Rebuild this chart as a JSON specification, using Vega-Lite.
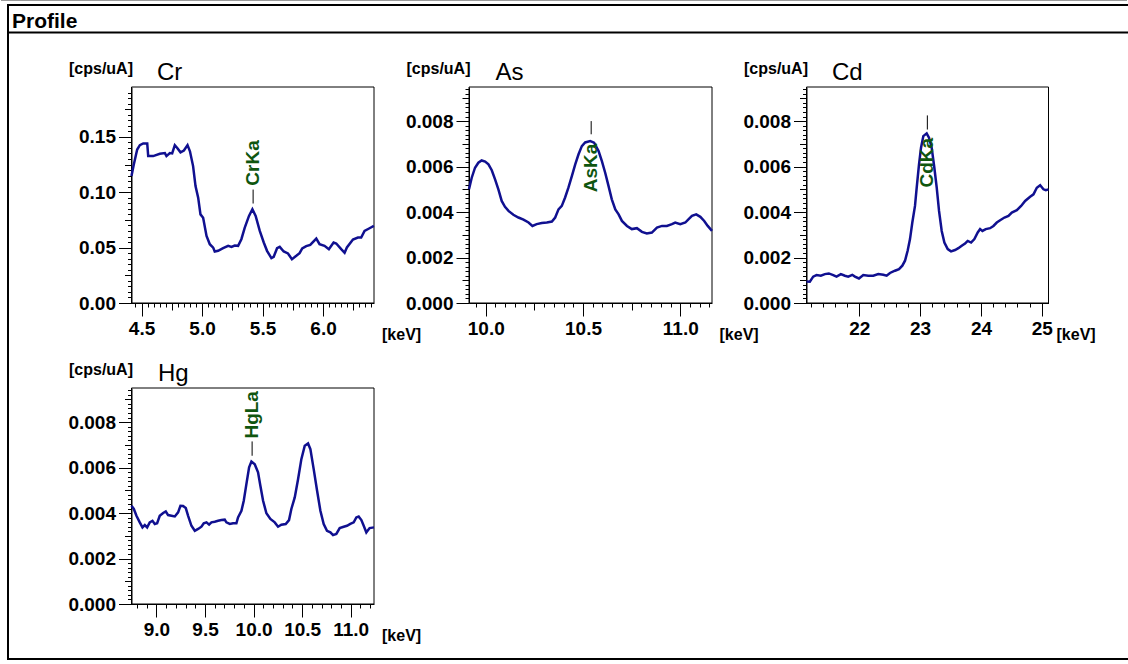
{
  "$schema": "https://vega.github.io/schema/vega-lite/v6.json",
  "width": 1119,
  "height": 654,
  "padding": {"left": 0, "top": 0, "right": 0, "bottom": 0},
  "background": "white",
  "config": {
    "view": {"stroke": null},
    "axis": {
      "domainColor": "black", "tickColor": "black", "grid": false,
      "labelFont": "Liberation Sans Narrow, Liberation Sans", "labelFontSize": 19, "labelFontWeight": "bold",
      "labelColor": "black", "labelPadding": 3, "labelFlush": false, "labelOverlap": false,
      "titleFont": "Liberation Sans", "titleFontSize": 16, "titleFontWeight": "bold", "titleColor": "black",
      "tickSize": 13
    }
  },
  "datasets": {
    "cr": [
      {"keV": 4.417, "cps": 0.1146}, {"keV": 4.436, "cps": 0.125}, {"keV": 4.464, "cps": 0.1386}, {"keV": 4.486, "cps": 0.1425},
      {"keV": 4.514, "cps": 0.144}, {"keV": 4.547, "cps": 0.144}, {"keV": 4.555, "cps": 0.1326}, {"keV": 4.596, "cps": 0.1326},
      {"keV": 4.651, "cps": 0.1347}, {"keV": 4.693, "cps": 0.1353}, {"keV": 4.706, "cps": 0.1326}, {"keV": 4.734, "cps": 0.1353},
      {"keV": 4.753, "cps": 0.135}, {"keV": 4.775, "cps": 0.1425}, {"keV": 4.795, "cps": 0.14}, {"keV": 4.822, "cps": 0.136},
      {"keV": 4.85, "cps": 0.1377}, {"keV": 4.88, "cps": 0.1425}, {"keV": 4.9, "cps": 0.137}, {"keV": 4.926, "cps": 0.1236},
      {"keV": 4.946, "cps": 0.1056}, {"keV": 4.968, "cps": 0.0951}, {"keV": 4.987, "cps": 0.08}, {"keV": 5.009, "cps": 0.077},
      {"keV": 5.037, "cps": 0.0606}, {"keV": 5.064, "cps": 0.0531}, {"keV": 5.092, "cps": 0.05}, {"keV": 5.105, "cps": 0.0465},
      {"keV": 5.133, "cps": 0.0471}, {"keV": 5.174, "cps": 0.0495}, {"keV": 5.216, "cps": 0.0516}, {"keV": 5.243, "cps": 0.0507},
      {"keV": 5.27, "cps": 0.0519}, {"keV": 5.298, "cps": 0.0516}, {"keV": 5.325, "cps": 0.0576}, {"keV": 5.353, "cps": 0.0681},
      {"keV": 5.388, "cps": 0.0786}, {"keV": 5.416, "cps": 0.0846}, {"keV": 5.443, "cps": 0.0786}, {"keV": 5.477, "cps": 0.0651},
      {"keV": 5.51, "cps": 0.0546}, {"keV": 5.537, "cps": 0.0471}, {"keV": 5.573, "cps": 0.0405}, {"keV": 5.592, "cps": 0.0417},
      {"keV": 5.62, "cps": 0.0495}, {"keV": 5.642, "cps": 0.0507}, {"keV": 5.675, "cps": 0.0465}, {"keV": 5.71, "cps": 0.0447},
      {"keV": 5.743, "cps": 0.0396}, {"keV": 5.779, "cps": 0.0426}, {"keV": 5.806, "cps": 0.045}, {"keV": 5.828, "cps": 0.0492},
      {"keV": 5.861, "cps": 0.0513}, {"keV": 5.894, "cps": 0.0525}, {"keV": 5.944, "cps": 0.0582}, {"keV": 5.971, "cps": 0.0531},
      {"keV": 6.012, "cps": 0.0516}, {"keV": 6.048, "cps": 0.0486}, {"keV": 6.087, "cps": 0.0546}, {"keV": 6.109, "cps": 0.0537},
      {"keV": 6.15, "cps": 0.0486}, {"keV": 6.178, "cps": 0.0453}, {"keV": 6.197, "cps": 0.0501}, {"keV": 6.247, "cps": 0.0573},
      {"keV": 6.288, "cps": 0.0591}, {"keV": 6.315, "cps": 0.0591}, {"keV": 6.343, "cps": 0.0651}, {"keV": 6.384, "cps": 0.0675},
      {"keV": 6.42, "cps": 0.0696}
    ],
    "as": [
      {"keV": 9.914, "cps": 0.005}, {"keV": 9.928, "cps": 0.00551}, {"keV": 9.945, "cps": 0.00595}, {"keV": 9.962, "cps": 0.00617},
      {"keV": 9.979, "cps": 0.00627}, {"keV": 9.997, "cps": 0.00622}, {"keV": 10.014, "cps": 0.0061}, {"keV": 10.031, "cps": 0.00584},
      {"keV": 10.048, "cps": 0.00544}, {"keV": 10.065, "cps": 0.005}, {"keV": 10.082, "cps": 0.00449}, {"keV": 10.099, "cps": 0.00423},
      {"keV": 10.117, "cps": 0.00405}, {"keV": 10.142, "cps": 0.00388}, {"keV": 10.168, "cps": 0.00376}, {"keV": 10.194, "cps": 0.00367},
      {"keV": 10.22, "cps": 0.00354}, {"keV": 10.24, "cps": 0.00339}, {"keV": 10.262, "cps": 0.00347}, {"keV": 10.288, "cps": 0.00352},
      {"keV": 10.314, "cps": 0.00354}, {"keV": 10.34, "cps": 0.00358}, {"keV": 10.357, "cps": 0.00376}, {"keV": 10.374, "cps": 0.00412},
      {"keV": 10.391, "cps": 0.00427}, {"keV": 10.408, "cps": 0.00464}, {"keV": 10.425, "cps": 0.00507}, {"keV": 10.443, "cps": 0.00559},
      {"keV": 10.46, "cps": 0.0061}, {"keV": 10.477, "cps": 0.00654}, {"keV": 10.494, "cps": 0.0069}, {"keV": 10.511, "cps": 0.00706},
      {"keV": 10.537, "cps": 0.00712}, {"keV": 10.557, "cps": 0.00705}, {"keV": 10.58, "cps": 0.00668}, {"keV": 10.597, "cps": 0.00624},
      {"keV": 10.614, "cps": 0.00573}, {"keV": 10.631, "cps": 0.00515}, {"keV": 10.648, "cps": 0.00456}, {"keV": 10.666, "cps": 0.00412},
      {"keV": 10.683, "cps": 0.0039}, {"keV": 10.7, "cps": 0.00361}, {"keV": 10.726, "cps": 0.00339}, {"keV": 10.751, "cps": 0.00325},
      {"keV": 10.777, "cps": 0.00329}, {"keV": 10.803, "cps": 0.00313}, {"keV": 10.828, "cps": 0.00306}, {"keV": 10.854, "cps": 0.0031},
      {"keV": 10.88, "cps": 0.00332}, {"keV": 10.906, "cps": 0.00339}, {"keV": 10.931, "cps": 0.00339}, {"keV": 10.957, "cps": 0.00347},
      {"keV": 10.974, "cps": 0.00354}, {"keV": 11.0, "cps": 0.00347}, {"keV": 11.026, "cps": 0.00354}, {"keV": 11.043, "cps": 0.00369},
      {"keV": 11.06, "cps": 0.00383}, {"keV": 11.082, "cps": 0.0039}, {"keV": 11.103, "cps": 0.00379}, {"keV": 11.123, "cps": 0.00361},
      {"keV": 11.141, "cps": 0.00339}, {"keV": 11.163, "cps": 0.00317}
    ],
    "cd": [
      {"keV": 21.133, "cps": 0.00095}, {"keV": 21.188, "cps": 0.00094}, {"keV": 21.243, "cps": 0.00116}, {"keV": 21.298, "cps": 0.00123},
      {"keV": 21.369, "cps": 0.0012}, {"keV": 21.435, "cps": 0.00127}, {"keV": 21.5, "cps": 0.0013}, {"keV": 21.572, "cps": 0.00123},
      {"keV": 21.627, "cps": 0.00116}, {"keV": 21.698, "cps": 0.00127}, {"keV": 21.764, "cps": 0.0012}, {"keV": 21.819, "cps": 0.00116},
      {"keV": 21.885, "cps": 0.00124}, {"keV": 21.929, "cps": 0.00116}, {"keV": 21.995, "cps": 0.00108}, {"keV": 22.066, "cps": 0.00123},
      {"keV": 22.148, "cps": 0.0012}, {"keV": 22.23, "cps": 0.0012}, {"keV": 22.313, "cps": 0.00127}, {"keV": 22.395, "cps": 0.00124},
      {"keV": 22.45, "cps": 0.0012}, {"keV": 22.505, "cps": 0.00132}, {"keV": 22.587, "cps": 0.00142}, {"keV": 22.653, "cps": 0.00149},
      {"keV": 22.708, "cps": 0.00164}, {"keV": 22.752, "cps": 0.00186}, {"keV": 22.795, "cps": 0.0023}, {"keV": 22.834, "cps": 0.00281},
      {"keV": 22.872, "cps": 0.00354}, {"keV": 22.916, "cps": 0.00427}, {"keV": 22.944, "cps": 0.00507}, {"keV": 22.982, "cps": 0.0061},
      {"keV": 23.015, "cps": 0.00683}, {"keV": 23.053, "cps": 0.00734}, {"keV": 23.108, "cps": 0.00746}, {"keV": 23.146, "cps": 0.00727},
      {"keV": 23.19, "cps": 0.00683}, {"keV": 23.234, "cps": 0.00595}, {"keV": 23.273, "cps": 0.00507}, {"keV": 23.311, "cps": 0.00405},
      {"keV": 23.355, "cps": 0.00317}, {"keV": 23.399, "cps": 0.00266}, {"keV": 23.454, "cps": 0.00237}, {"keV": 23.508, "cps": 0.00227},
      {"keV": 23.574, "cps": 0.00233}, {"keV": 23.629, "cps": 0.00241}, {"keV": 23.684, "cps": 0.00252}, {"keV": 23.739, "cps": 0.00262},
      {"keV": 23.783, "cps": 0.00273}, {"keV": 23.838, "cps": 0.00266}, {"keV": 23.892, "cps": 0.00281}, {"keV": 23.947, "cps": 0.0031},
      {"keV": 23.986, "cps": 0.00325}, {"keV": 24.024, "cps": 0.00317}, {"keV": 24.079, "cps": 0.00325}, {"keV": 24.15, "cps": 0.00329},
      {"keV": 24.205, "cps": 0.00339}, {"keV": 24.26, "cps": 0.00354}, {"keV": 24.315, "cps": 0.00364}, {"keV": 24.386, "cps": 0.00376},
      {"keV": 24.452, "cps": 0.00383}, {"keV": 24.507, "cps": 0.00398}, {"keV": 24.589, "cps": 0.00408}, {"keV": 24.66, "cps": 0.00427},
      {"keV": 24.726, "cps": 0.00449}, {"keV": 24.808, "cps": 0.00467}, {"keV": 24.863, "cps": 0.00478}, {"keV": 24.918, "cps": 0.00507},
      {"keV": 24.973, "cps": 0.00518}, {"keV": 25.027, "cps": 0.005}, {"keV": 25.066, "cps": 0.00496}, {"keV": 25.11, "cps": 0.005}
    ],
    "hg": [
      {"keV": 8.743, "cps": 0.00432}, {"keV": 8.767, "cps": 0.00418}, {"keV": 8.794, "cps": 0.00388}, {"keV": 8.828, "cps": 0.00359},
      {"keV": 8.856, "cps": 0.00337}, {"keV": 8.88, "cps": 0.00347}, {"keV": 8.904, "cps": 0.00337}, {"keV": 8.931, "cps": 0.00359},
      {"keV": 8.959, "cps": 0.00366}, {"keV": 8.983, "cps": 0.00352}, {"keV": 9.007, "cps": 0.00355}, {"keV": 9.034, "cps": 0.00388},
      {"keV": 9.069, "cps": 0.004}, {"keV": 9.096, "cps": 0.00407}, {"keV": 9.12, "cps": 0.00391}, {"keV": 9.154, "cps": 0.00388},
      {"keV": 9.189, "cps": 0.00385}, {"keV": 9.223, "cps": 0.00403}, {"keV": 9.247, "cps": 0.00432}, {"keV": 9.274, "cps": 0.00431},
      {"keV": 9.302, "cps": 0.00422}, {"keV": 9.326, "cps": 0.00388}, {"keV": 9.36, "cps": 0.00344}, {"keV": 9.395, "cps": 0.00322},
      {"keV": 9.429, "cps": 0.0033}, {"keV": 9.463, "cps": 0.0034}, {"keV": 9.487, "cps": 0.00355}, {"keV": 9.515, "cps": 0.00359},
      {"keV": 9.542, "cps": 0.00349}, {"keV": 9.566, "cps": 0.00359}, {"keV": 9.6, "cps": 0.00362}, {"keV": 9.635, "cps": 0.00366},
      {"keV": 9.669, "cps": 0.00369}, {"keV": 9.703, "cps": 0.00371}, {"keV": 9.72, "cps": 0.00359}, {"keV": 9.755, "cps": 0.00352},
      {"keV": 9.789, "cps": 0.00355}, {"keV": 9.823, "cps": 0.00355}, {"keV": 9.84, "cps": 0.00381}, {"keV": 9.875, "cps": 0.0041},
      {"keV": 9.899, "cps": 0.00454}, {"keV": 9.926, "cps": 0.00527}, {"keV": 9.954, "cps": 0.00601}, {"keV": 9.978, "cps": 0.00627},
      {"keV": 10.012, "cps": 0.00615}, {"keV": 10.046, "cps": 0.00579}, {"keV": 10.07, "cps": 0.0052}, {"keV": 10.098, "cps": 0.00454},
      {"keV": 10.132, "cps": 0.00399}, {"keV": 10.173, "cps": 0.00374}, {"keV": 10.218, "cps": 0.00359}, {"keV": 10.252, "cps": 0.0034},
      {"keV": 10.286, "cps": 0.00349}, {"keV": 10.331, "cps": 0.00352}, {"keV": 10.365, "cps": 0.00369}, {"keV": 10.389, "cps": 0.00418},
      {"keV": 10.424, "cps": 0.00469}, {"keV": 10.458, "cps": 0.00549}, {"keV": 10.492, "cps": 0.00637}, {"keV": 10.527, "cps": 0.00696},
      {"keV": 10.561, "cps": 0.00706}, {"keV": 10.585, "cps": 0.00681}, {"keV": 10.619, "cps": 0.00593}, {"keV": 10.654, "cps": 0.00498},
      {"keV": 10.688, "cps": 0.0041}, {"keV": 10.722, "cps": 0.00352}, {"keV": 10.756, "cps": 0.00322}, {"keV": 10.791, "cps": 0.00315},
      {"keV": 10.818, "cps": 0.00303}, {"keV": 10.852, "cps": 0.00308}, {"keV": 10.887, "cps": 0.00334}, {"keV": 10.928, "cps": 0.0034},
      {"keV": 10.962, "cps": 0.00344}, {"keV": 10.996, "cps": 0.00352}, {"keV": 11.031, "cps": 0.00359}, {"keV": 11.058, "cps": 0.00381},
      {"keV": 11.082, "cps": 0.00385}, {"keV": 11.11, "cps": 0.00369}, {"keV": 11.134, "cps": 0.00344}, {"keV": 11.161, "cps": 0.00315},
      {"keV": 11.195, "cps": 0.00334}, {"keV": 11.24, "cps": 0.00337}
    ],
    "peaks": [
      {"el": "Cr", "line": "CrKa", "keV": 5.422, "y1": 0.0898, "y2": 0.1024, "ly": 0.1264},
      {"el": "As", "line": "AsKa", "keV": 10.542, "y1": 0.00742, "y2": 0.008, "ly": 0.00594},
      {"el": "Cd", "line": "CdKa", "keV": 23.119, "y1": 0.00763, "y2": 0.00825, "ly": 0.00617},
      {"el": "Hg", "line": "HgLa", "keV": 9.985, "y1": 0.00652, "y2": 0.00715, "ly": 0.00832}
    ]
  },
  "resolve": {"scale": {"x": "independent", "y": "independent"}, "axis": {"x": "independent", "y": "independent"}},
  "layer": [
    {
      "data": {"values": [{"t": "Profile"}]},
      "layer": [
        {"mark": {"type": "text", "align": "left", "baseline": "alphabetic", "font": "Liberation Sans", "fontSize": 21, "fontWeight": "bold", "dx": 4, "dy": -5, "color": "black"},
         "encoding": {
           "text": {"field": "t"},
           "x": {"datum": 0, "type": "quantitative", "scale": {"domain": [0, 1], "range": [0, 1119]}, "axis": null},
           "y": {"datum": 0.95795, "type": "quantitative", "scale": {"domain": [0, 1], "range": [654, 0]}, "axis": null}
         }},
        {"mark": {"type": "rule", "color": "#9a9a9a", "strokeWidth": 1},
         "encoding": {
           "x": {"datum": -0.006256, "type": "quantitative", "scale": {"domain": [0, 1], "range": [0, 1119]}, "axis": null},
           "x2": {"datum": 1},
           "y": {"datum": 1.00688, "type": "quantitative", "scale": {"domain": [0, 1], "range": [654, 0]}, "axis": null}
         }},
        {"mark": {"type": "rule", "color": "black", "strokeWidth": 2, "strokeCap": "square"},
         "encoding": {
           "x": {"datum": 0, "type": "quantitative", "scale": {"domain": [0, 1], "range": [0, 1119]}, "axis": null},
           "x2": {"datum": 1},
           "y": {"datum": 1, "type": "quantitative", "scale": {"domain": [0, 1], "range": [654, 0]}, "axis": null}
         }},
        {"mark": {"type": "rule", "color": "black", "strokeWidth": 2, "strokeCap": "square"},
         "encoding": {
           "x": {"datum": 0, "type": "quantitative", "scale": {"domain": [0, 1], "range": [0, 1119]}, "axis": null},
           "x2": {"datum": 1},
           "y": {"datum": 0.95795, "type": "quantitative", "scale": {"domain": [0, 1], "range": [654, 0]}, "axis": null}
         }},
        {"mark": {"type": "rule", "color": "black", "strokeWidth": 2, "strokeCap": "square"},
         "encoding": {
           "x": {"datum": 0, "type": "quantitative", "scale": {"domain": [0, 1], "range": [0, 1119]}, "axis": null},
           "x2": {"datum": 1},
           "y": {"datum": 0, "type": "quantitative", "scale": {"domain": [0, 1], "range": [654, 0]}, "axis": null}
         }},
        {"mark": {"type": "rule", "color": "black", "strokeWidth": 2, "strokeCap": "square"},
         "encoding": {
           "x": {"datum": 0, "type": "quantitative", "scale": {"domain": [0, 1], "range": [0, 1119]}, "axis": null},
           "y": {"datum": 0, "type": "quantitative", "scale": {"domain": [0, 1], "range": [654, 0]}, "axis": null},
           "y2": {"datum": 1}
         }}
      ]
    },
    {
      "resolve": {"axis": {"x": "independent", "y": "independent"}},
      "layer": [
        {
          "data": {"values": [{}]},
          "mark": {"type": "rect", "fill": "transparent", "stroke": "black", "strokeWidth": 1},
          "encoding": {
            "x": {"datum": 4.417, "type": "quantitative", "scale": {"domain": [4.417, 6.421], "range": [123.5, 366], "nice": false, "zero": false}, "axis": null},
            "x2": {"datum": 6.421},
            "y": {"datum": 0, "type": "quantitative", "scale": {"domain": [0, 0.195], "range": [298, 82], "nice": false, "zero": false}, "axis": null},
            "y2": {"datum": 0.195}
          }
        },
        {
          "data": {"name": "cr"},
          "mark": {"type": "line", "color": "#101090", "strokeWidth": 2.5},
          "encoding": {
            "x": {"field": "keV", "type": "quantitative", "scale": {"domain": [4.417, 6.421], "range": [123.5, 366], "nice": false, "zero": false},
              "axis": {"orient": "bottom", "offset": -356, "values": [4.5, 5, 5.5, 6], "format": ".1f", "title": "[keV]", "titleAlign": "left", "titleAnchor": "start", "titleBaseline": "alphabetic", "titleX": 373.5, "titleY": 36}},
            "y": {"field": "cps", "type": "quantitative", "scale": {"domain": [0, 0.195], "range": [298, 82], "nice": false, "zero": false},
              "axis": {"orient": "left", "offset": -123.5, "values": [0, 0.05, 0.1, 0.15], "format": ".2f", "title": "[cps/uA]", "titleAngle": 0, "titleAlign": "right", "titleBaseline": "alphabetic", "titleX": 1, "titleY": 68}}
          }
        },
        {
          "data": {"name": "peaks"},
          "transform": [{"filter": "datum.el === 'Cr'"}],
          "mark": {"type": "rule", "color": "black", "strokeWidth": 1},
          "encoding": {
            "x": {"field": "keV", "type": "quantitative", "scale": {"domain": [4.417, 6.421], "range": [123.5, 366], "nice": false, "zero": false},
              "axis": {"orient": "bottom", "offset": -356, "values": [4.45,4.5,4.55,4.6,4.65,4.7,4.75,4.8,4.85,4.9,4.95,5,5.05,5.1,5.15,5.2,5.25,5.3,5.35,5.4,5.45,5.5,5.55,5.6,5.65,5.7,5.75,5.8,5.85,5.9,5.95,6,6.05,6.1,6.15,6.2,6.25,6.3,6.35,6.4], "tickSize": 4, "labels": false, "domain": false, "title": null}},
            "y": {"field": "y1", "type": "quantitative", "scale": {"domain": [0, 0.195], "range": [298, 82], "nice": false, "zero": false},
              "axis": {"orient": "left", "offset": -123.5, "values": [0.005,0.01,0.015,0.02,0.025,0.03,0.035,0.04,0.045,0.05,0.055,0.06,0.065,0.07,0.075,0.08,0.085,0.09,0.095,0.1,0.105,0.11,0.115,0.12,0.125,0.13,0.135,0.14,0.145,0.15,0.155,0.16,0.165,0.17,0.175,0.18,0.185,0.19], "tickSize": 4, "labels": false, "domain": false, "title": null}},
            "y2": {"field": "y2"}
          }
        },
        {
          "data": {"name": "peaks"},
          "transform": [{"filter": "datum.el === 'Cr'"}],
          "mark": {"type": "text", "angle": 270, "align": "center", "baseline": "middle", "font": "Liberation Sans Narrow, Liberation Sans", "fontSize": 19, "fontWeight": "bold", "color": "#0f560f"},
          "encoding": {
            "text": {"field": "line"},
            "x": {"field": "keV", "type": "quantitative", "scale": {"domain": [4.417, 6.421], "range": [123.5, 366], "nice": false, "zero": false},
              "axis": {"orient": "bottom", "offset": -356, "values": [4.75, 5.25, 5.75, 6.25], "tickSize": 7, "labels": false, "domain": false, "title": null}},
            "y": {"field": "ly", "type": "quantitative", "scale": {"domain": [0, 0.195], "range": [298, 82], "nice": false, "zero": false},
              "axis": {"orient": "left", "offset": -123.5, "values": [0.025, 0.075, 0.125, 0.175], "tickSize": 7, "labels": false, "domain": false,
                "title": "Cr", "titleFont": "Liberation Sans", "titleFontSize": 24, "titleFontWeight": "normal", "titleAngle": 0, "titleAlign": "left", "titleBaseline": "alphabetic", "titleX": 25, "titleY": 74}}
          }
        }
      ]
    },
    {
      "resolve": {"axis": {"x": "independent", "y": "independent"}},
      "layer": [
        {
          "data": {"values": [{}]},
          "mark": {"type": "rect", "fill": "transparent", "stroke": "black", "strokeWidth": 1},
          "encoding": {
            "x": {"datum": 9.914, "type": "quantitative", "scale": {"domain": [9.914, 11.163], "range": [461, 704], "nice": false, "zero": false}, "axis": null},
            "x2": {"datum": 11.163},
            "y": {"datum": 0, "type": "quantitative", "scale": {"domain": [0, 0.0095], "range": [298, 82], "nice": false, "zero": false}, "axis": null},
            "y2": {"datum": 0.0095}
          }
        },
        {
          "data": {"name": "as"},
          "mark": {"type": "line", "color": "#101090", "strokeWidth": 2.5},
          "encoding": {
            "x": {"field": "keV", "type": "quantitative", "scale": {"domain": [9.914, 11.163], "range": [461, 704], "nice": false, "zero": false},
              "axis": {"orient": "bottom", "offset": -356, "values": [10, 10.5, 11], "format": ".1f", "title": "[keV]", "titleAlign": "left", "titleAnchor": "start", "titleBaseline": "alphabetic", "titleX": 711, "titleY": 36}},
            "y": {"field": "cps", "type": "quantitative", "scale": {"domain": [0, 0.0095], "range": [298, 82], "nice": false, "zero": false},
              "axis": {"orient": "left", "offset": -461, "values": [0, 0.002, 0.004, 0.006, 0.008], "format": ".3f", "title": "[cps/uA]", "titleAngle": 0, "titleAlign": "right", "titleBaseline": "alphabetic", "titleX": 1, "titleY": 68}}
          }
        },
        {
          "data": {"name": "peaks"},
          "transform": [{"filter": "datum.el === 'As'"}],
          "mark": {"type": "rule", "color": "black", "strokeWidth": 1},
          "encoding": {
            "x": {"field": "keV", "type": "quantitative", "scale": {"domain": [9.914, 11.163], "range": [461, 704], "nice": false, "zero": false},
              "axis": {"orient": "bottom", "offset": -356, "values": [9.95,10,10.05,10.1,10.15,10.2,10.25,10.3,10.35,10.4,10.45,10.5,10.55,10.6,10.65,10.7,10.75,10.8,10.85,10.9,10.95,11,11.05,11.1,11.15], "tickSize": 4, "labels": false, "domain": false, "title": null}},
            "y": {"field": "y1", "type": "quantitative", "scale": {"domain": [0, 0.0095], "range": [298, 82], "nice": false, "zero": false},
              "axis": {"orient": "left", "offset": -461, "values": [0.0002,0.0004,0.0006,0.0008,0.001,0.0012,0.0014,0.0016,0.0018,0.002,0.0022,0.0024,0.0026,0.0028,0.003,0.0032,0.0034,0.0036,0.0038,0.004,0.0042,0.0044,0.0046,0.0048,0.005,0.0052,0.0054,0.0056,0.0058,0.006,0.0062,0.0064,0.0066,0.0068,0.007,0.0072,0.0074,0.0076,0.0078,0.008,0.0082,0.0084,0.0086,0.0088,0.009,0.0092,0.0094], "tickSize": 4, "labels": false, "domain": false, "title": null}},
            "y2": {"field": "y2"}
          }
        },
        {
          "data": {"name": "peaks"},
          "transform": [{"filter": "datum.el === 'As'"}],
          "mark": {"type": "text", "angle": 270, "align": "center", "baseline": "middle", "font": "Liberation Sans Narrow, Liberation Sans", "fontSize": 19, "fontWeight": "bold", "color": "#0f560f"},
          "encoding": {
            "text": {"field": "line"},
            "x": {"field": "keV", "type": "quantitative", "scale": {"domain": [9.914, 11.163], "range": [461, 704], "nice": false, "zero": false},
              "axis": {"orient": "bottom", "offset": -356, "values": [10.25, 10.75], "tickSize": 7, "labels": false, "domain": false, "title": null}},
            "y": {"field": "ly", "type": "quantitative", "scale": {"domain": [0, 0.0095], "range": [298, 82], "nice": false, "zero": false},
              "axis": {"orient": "left", "offset": -461, "values": [0.001, 0.003, 0.005, 0.007, 0.009], "tickSize": 7, "labels": false, "domain": false,
                "title": "As", "titleFont": "Liberation Sans", "titleFontSize": 24, "titleFontWeight": "normal", "titleAngle": 0, "titleAlign": "left", "titleBaseline": "alphabetic", "titleX": 26, "titleY": 74}}
          }
        }
      ]
    },
    {
      "resolve": {"axis": {"x": "independent", "y": "independent"}},
      "layer": [
        {
          "data": {"values": [{}]},
          "mark": {"type": "rect", "fill": "transparent", "stroke": "black", "strokeWidth": 1},
          "encoding": {
            "x": {"datum": 21.133, "type": "quantitative", "scale": {"domain": [21.133, 25.11], "range": [798.5, 1040.5], "nice": false, "zero": false}, "axis": null},
            "x2": {"datum": 25.11},
            "y": {"datum": 0, "type": "quantitative", "scale": {"domain": [0, 0.0095], "range": [298, 82], "nice": false, "zero": false}, "axis": null},
            "y2": {"datum": 0.0095}
          }
        },
        {
          "data": {"name": "cd"},
          "mark": {"type": "line", "color": "#101090", "strokeWidth": 2.5},
          "encoding": {
            "x": {"field": "keV", "type": "quantitative", "scale": {"domain": [21.133, 25.11], "range": [798.5, 1040.5], "nice": false, "zero": false},
              "axis": {"orient": "bottom", "offset": -356, "values": [22, 23, 24, 25], "format": "d", "title": "[keV]", "titleAlign": "left", "titleAnchor": "start", "titleBaseline": "alphabetic", "titleX": 1048, "titleY": 36}},
            "y": {"field": "cps", "type": "quantitative", "scale": {"domain": [0, 0.0095], "range": [298, 82], "nice": false, "zero": false},
              "axis": {"orient": "left", "offset": -798.5, "values": [0, 0.002, 0.004, 0.006, 0.008], "format": ".3f", "title": "[cps/uA]", "titleAngle": 0, "titleAlign": "right", "titleBaseline": "alphabetic", "titleX": 1, "titleY": 68}}
          }
        },
        {
          "data": {"name": "peaks"},
          "transform": [{"filter": "datum.el === 'Cd'"}],
          "mark": {"type": "rule", "color": "black", "strokeWidth": 1},
          "encoding": {
            "x": {"field": "keV", "type": "quantitative", "scale": {"domain": [21.133, 25.11], "range": [798.5, 1040.5], "nice": false, "zero": false},
              "axis": {"orient": "bottom", "offset": -356, "values": [21.2,21.4,21.6,21.8,22,22.2,22.4,22.6,22.8,23,23.2,23.4,23.6,23.8,24,24.2,24.4,24.6,24.8,25], "tickSize": 4, "labels": false, "domain": false, "title": null}},
            "y": {"field": "y1", "type": "quantitative", "scale": {"domain": [0, 0.0095], "range": [298, 82], "nice": false, "zero": false},
              "axis": {"orient": "left", "offset": -798.5, "values": [0.0002,0.0004,0.0006,0.0008,0.001,0.0012,0.0014,0.0016,0.0018,0.002,0.0022,0.0024,0.0026,0.0028,0.003,0.0032,0.0034,0.0036,0.0038,0.004,0.0042,0.0044,0.0046,0.0048,0.005,0.0052,0.0054,0.0056,0.0058,0.006,0.0062,0.0064,0.0066,0.0068,0.007,0.0072,0.0074,0.0076,0.0078,0.008,0.0082,0.0084,0.0086,0.0088,0.009,0.0092,0.0094], "tickSize": 4, "labels": false, "domain": false, "title": null}},
            "y2": {"field": "y2"}
          }
        },
        {
          "data": {"name": "peaks"},
          "transform": [{"filter": "datum.el === 'Cd'"}],
          "mark": {"type": "text", "angle": 270, "align": "center", "baseline": "middle", "font": "Liberation Sans Narrow, Liberation Sans", "fontSize": 19, "fontWeight": "bold", "color": "#0f560f"},
          "encoding": {
            "text": {"field": "line"},
            "x": {"field": "keV", "type": "quantitative", "scale": {"domain": [21.133, 25.11], "range": [798.5, 1040.5], "nice": false, "zero": false},
              "axis": {"orient": "bottom", "offset": -356, "values": [22, 23, 24, 25], "tickSize": 7, "labels": false, "domain": false, "title": null}},
            "y": {"field": "ly", "type": "quantitative", "scale": {"domain": [0, 0.0095], "range": [298, 82], "nice": false, "zero": false},
              "axis": {"orient": "left", "offset": -798.5, "values": [0.001, 0.003, 0.005, 0.007, 0.009], "tickSize": 7, "labels": false, "domain": false,
                "title": "Cd", "titleFont": "Liberation Sans", "titleFontSize": 24, "titleFontWeight": "normal", "titleAngle": 0, "titleAlign": "left", "titleBaseline": "alphabetic", "titleX": 25, "titleY": 74}}
          }
        }
      ]
    },
    {
      "resolve": {"axis": {"x": "independent", "y": "independent"}},
      "layer": [
        {
          "data": {"values": [{}]},
          "mark": {"type": "rect", "fill": "transparent", "stroke": "black", "strokeWidth": 1},
          "encoding": {
            "x": {"datum": 8.743, "type": "quantitative", "scale": {"domain": [8.743, 11.24], "range": [123.5, 366], "nice": false, "zero": false}, "axis": null},
            "x2": {"datum": 11.24},
            "y": {"datum": 0, "type": "quantitative", "scale": {"domain": [0, 0.0095], "range": [599, 383], "nice": false, "zero": false}, "axis": null},
            "y2": {"datum": 0.0095}
          }
        },
        {
          "data": {"name": "hg"},
          "mark": {"type": "line", "color": "#101090", "strokeWidth": 2.5},
          "encoding": {
            "x": {"field": "keV", "type": "quantitative", "scale": {"domain": [8.743, 11.24], "range": [123.5, 366], "nice": false, "zero": false},
              "axis": {"orient": "bottom", "offset": -55, "values": [9, 9.5, 10, 10.5, 11], "format": ".1f", "title": "[keV]", "titleAlign": "left", "titleAnchor": "start", "titleBaseline": "alphabetic", "titleX": 373.5, "titleY": 36}},
            "y": {"field": "cps", "type": "quantitative", "scale": {"domain": [0, 0.0095], "range": [599, 383], "nice": false, "zero": false},
              "axis": {"orient": "left", "offset": -123.5, "values": [0, 0.002, 0.004, 0.006, 0.008], "format": ".3f", "title": "[cps/uA]", "titleAngle": 0, "titleAlign": "right", "titleBaseline": "alphabetic", "titleX": 1, "titleY": 369}}
          }
        },
        {
          "data": {"name": "peaks"},
          "transform": [{"filter": "datum.el === 'Hg'"}],
          "mark": {"type": "rule", "color": "black", "strokeWidth": 1},
          "encoding": {
            "x": {"field": "keV", "type": "quantitative", "scale": {"domain": [8.743, 11.24], "range": [123.5, 366], "nice": false, "zero": false},
              "axis": {"orient": "bottom", "offset": -55, "values": [8.8,8.9,9,9.1,9.2,9.3,9.4,9.5,9.6,9.7,9.8,9.9,10,10.1,10.2,10.3,10.4,10.5,10.6,10.7,10.8,10.9,11,11.1,11.2], "tickSize": 4, "labels": false, "domain": false, "title": null}},
            "y": {"field": "y1", "type": "quantitative", "scale": {"domain": [0, 0.0095], "range": [599, 383], "nice": false, "zero": false},
              "axis": {"orient": "left", "offset": -123.5, "values": [0.0002,0.0004,0.0006,0.0008,0.001,0.0012,0.0014,0.0016,0.0018,0.002,0.0022,0.0024,0.0026,0.0028,0.003,0.0032,0.0034,0.0036,0.0038,0.004,0.0042,0.0044,0.0046,0.0048,0.005,0.0052,0.0054,0.0056,0.0058,0.006,0.0062,0.0064,0.0066,0.0068,0.007,0.0072,0.0074,0.0076,0.0078,0.008,0.0082,0.0084,0.0086,0.0088,0.009,0.0092,0.0094], "tickSize": 4, "labels": false, "domain": false, "title": null}},
            "y2": {"field": "y2"}
          }
        },
        {
          "data": {"name": "peaks"},
          "transform": [{"filter": "datum.el === 'Hg'"}],
          "mark": {"type": "text", "angle": 270, "align": "center", "baseline": "middle", "font": "Liberation Sans Narrow, Liberation Sans", "fontSize": 19, "fontWeight": "bold", "color": "#0f560f"},
          "encoding": {
            "text": {"field": "line"},
            "x": {"field": "keV", "type": "quantitative", "scale": {"domain": [8.743, 11.24], "range": [123.5, 366], "nice": false, "zero": false},
              "axis": {"orient": "bottom", "offset": -55, "values": [9, 9.5, 10, 10.5, 11], "tickSize": 7, "labels": false, "domain": false, "title": null}},
            "y": {"field": "ly", "type": "quantitative", "scale": {"domain": [0, 0.0095], "range": [599, 383], "nice": false, "zero": false},
              "axis": {"orient": "left", "offset": -123.5, "values": [0.001, 0.003, 0.005, 0.007, 0.009], "tickSize": 7, "labels": false, "domain": false,
                "title": "Hg", "titleFont": "Liberation Sans", "titleFontSize": 24, "titleFontWeight": "normal", "titleAngle": 0, "titleAlign": "left", "titleBaseline": "alphabetic", "titleX": 26, "titleY": 375}}
          }
        }
      ]
    }
  ]
}
